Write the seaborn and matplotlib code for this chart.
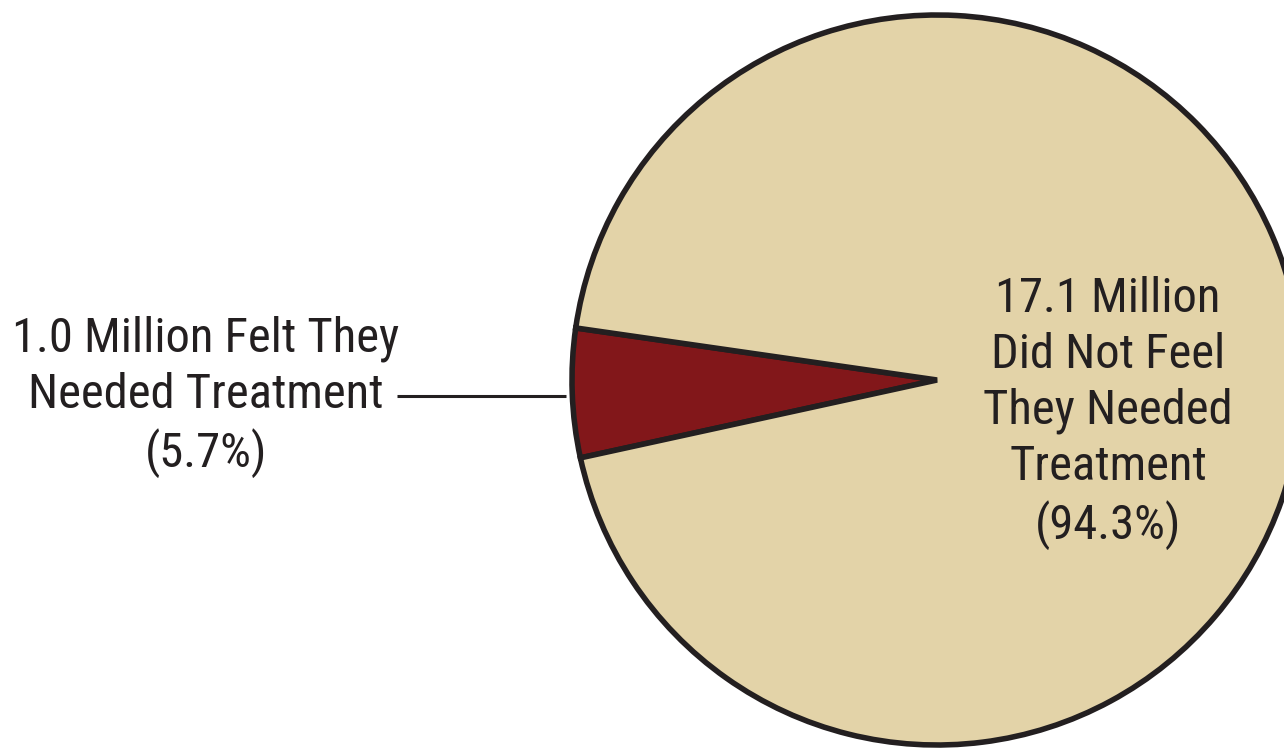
import matplotlib
matplotlib.use("Agg")
import matplotlib.pyplot as plt
import seaborn as sns

# Share of people with an unmet need who felt they needed treatment
categories = ["Felt They Needed Treatment", "Did Not Feel They Needed Treatment"]
millions = [1.0, 17.1]
percents = [5.7, 94.3]
colors = ["#82171A", "#E3D3A8"]

sns.set_theme(style="white")
plt.rcParams["font.family"] = ["Roboto Condensed", "DejaVu Sans"]
plt.rcParams["font.stretch"] = "condensed"

fig = plt.figure(figsize=(12.84, 7.48), dpi=100)
ax = fig.add_axes([0, 0, 1, 1])

cx, cy, r = 937, 368, 365
ax.pie(
    percents,
    colors=colors,
    startangle=171.8,
    counterclock=True,
    center=(cx, cy),
    radius=r,
    frame=True,
    wedgeprops=dict(edgecolor="#231F20", linewidth=4.0, joinstyle="miter"),
)
ax.set_xlim(0, 1284)
ax.set_ylim(0, 748)
ax.set_aspect("equal")
ax.axis("off")

txt_color = "#231F20"
fs = 35

left_label = f"{millions[0]:.1f} Million Felt They\nNeeded Treatment\n({percents[0]:.1f}%)"
ax.text(206, 748 - 397, left_label, ha="center", va="center", fontsize=fs,
        color=txt_color, linespacing=1.27)

right_label = f"{millions[1]:.1f} Million\nDid Not Feel\nThey Needed\nTreatment\n({percents[1]:.1f}%)"
ax.text(1108, 748 - 413, right_label, ha="center", va="center", fontsize=fs,
        color=txt_color, linespacing=1.27)

# leader line from the left label to the small slice
ax.plot([397, 566], [748 - 396, 748 - 396], color=txt_color, linewidth=2.2,
        solid_capstyle="butt")

fig.savefig("out.png", dpi=100, facecolor="white")
